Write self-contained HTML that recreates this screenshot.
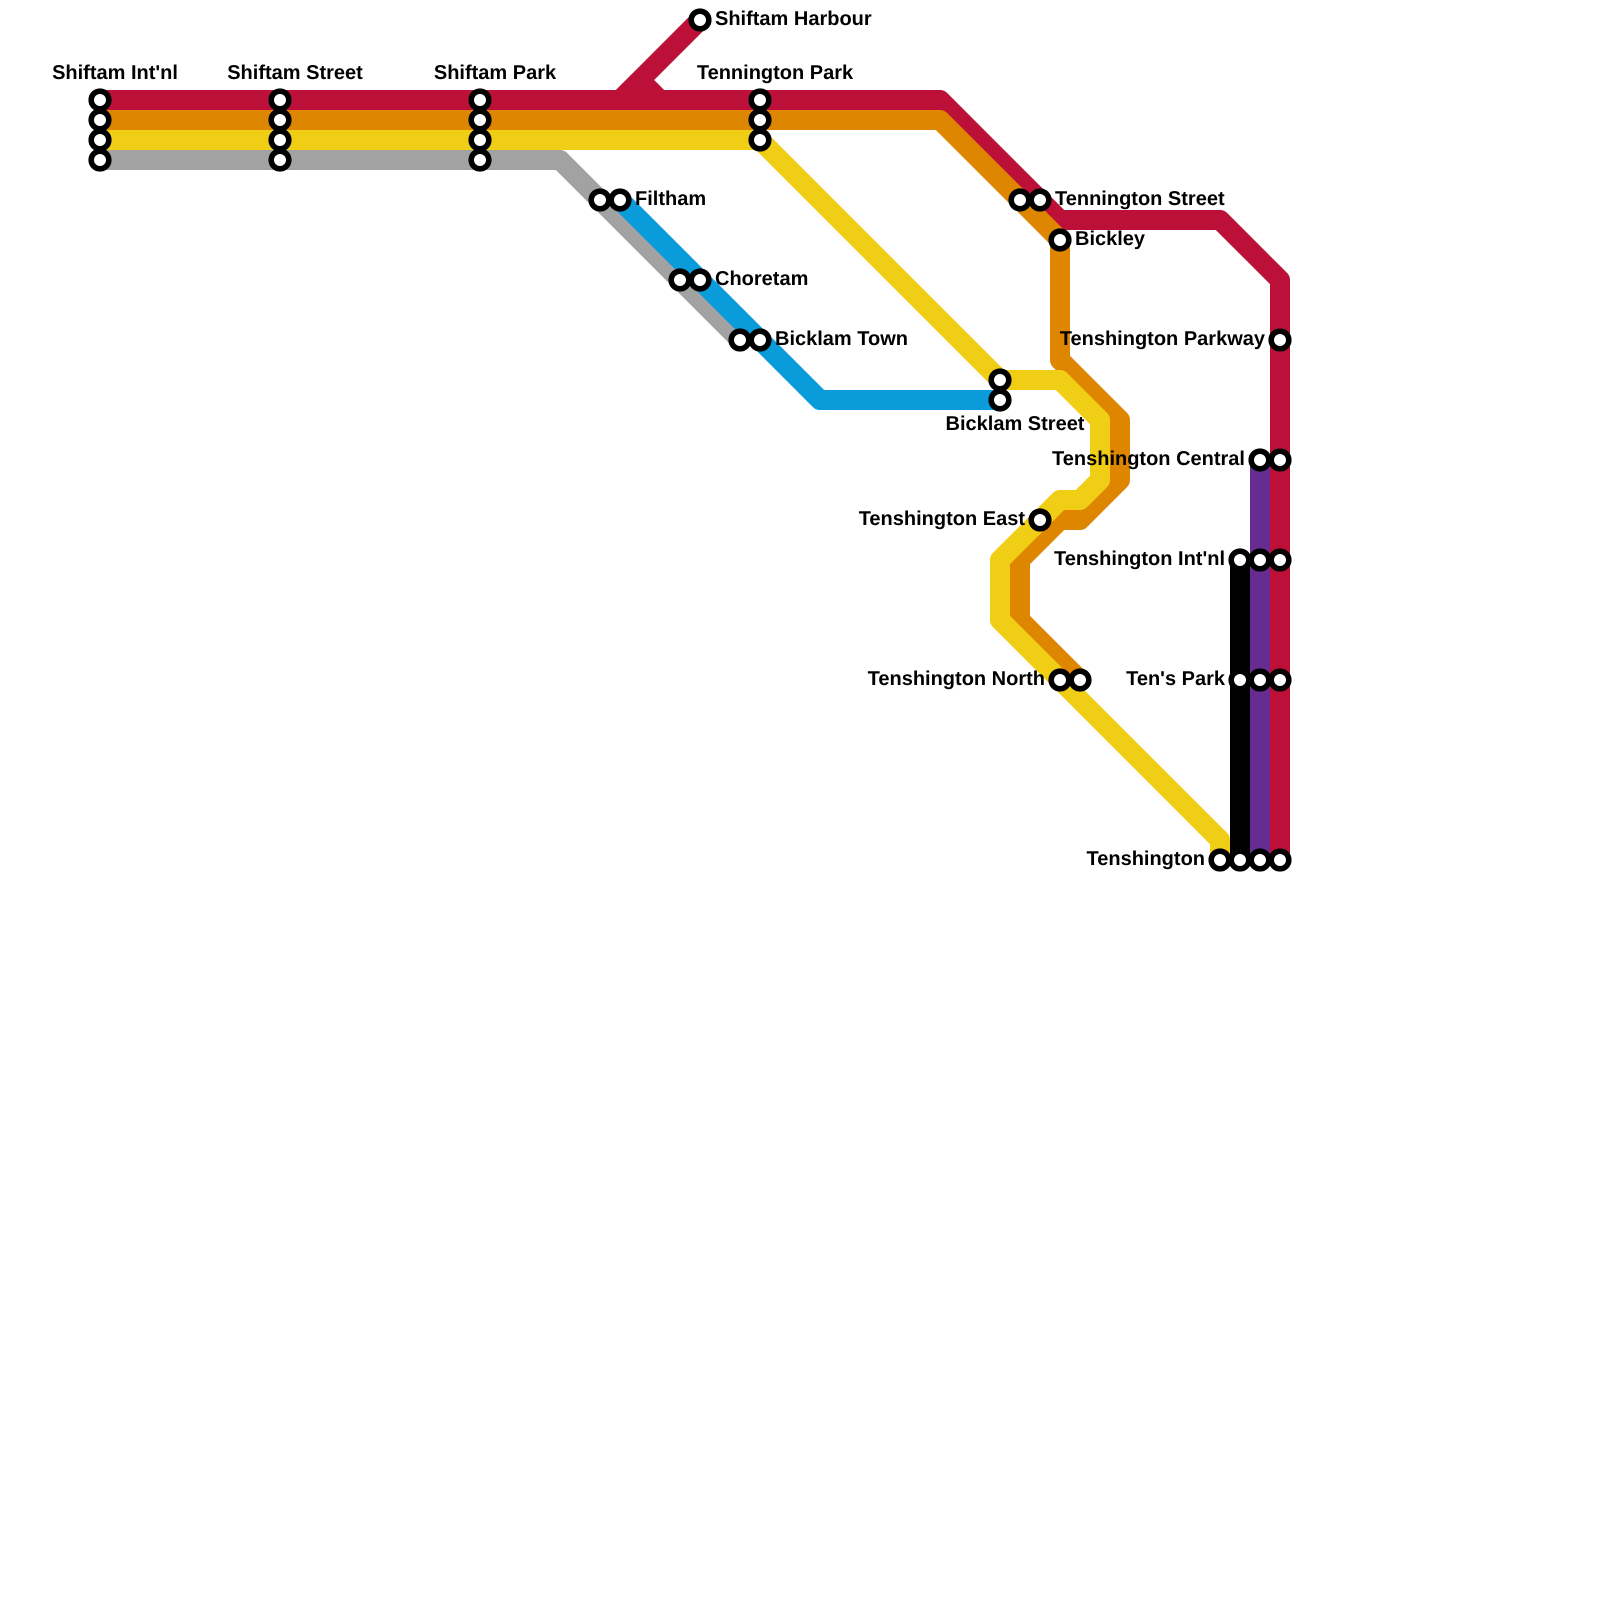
<!DOCTYPE html>
<html><head><meta charset="utf-8"><style>
html,body{margin:0;padding:0;background:#fff}
svg{display:block}
text{font-family:"Liberation Sans",sans-serif;font-weight:700;font-size:20px;fill:#000;text-rendering:geometricPrecision}
.l{fill:none;stroke-width:20;stroke-linejoin:round;stroke-linecap:butt}
.s{fill:#fff;stroke:#000;stroke-width:5.6}
.e{text-anchor:end}.m{text-anchor:middle}
</style></head><body>
<svg width="1600" height="1600" viewBox="0 0 1600 1600" xmlns="http://www.w3.org/2000/svg">
<rect width="1600" height="1600" fill="#fff"/>
<polyline class="l" stroke="#a2a2a2" points="100,160 560,160 740,340"/>
<polyline class="l" stroke="#0a9bdb" points="620,200 820,400 1000,400"/>
<polyline class="l" stroke="#bd1038" points="100,100 940,100 1060,220 1220,220 1280,280 1280,860"/>
<polyline class="l" stroke="#bd1038" points="700,20 620,100"/>
<polyline class="l" stroke="#bd1038" points="640,80 660,100"/>
<polyline class="l" stroke="#df8600" points="100,120 940,120 1060,240 1060,360 1120,420 1120,480 1080,520 1060,520 1020,560 1020,620 1080,680"/>
<polyline class="l" stroke="#f0ce15" points="100,140 760,140 1000,380 1060,380 1100,420 1100,480 1080,500 1060,500 1000,560 1000,620 1220,840 1220,860"/>
<polyline class="l" stroke="#662c90" points="1260,460 1260,860"/>
<polyline class="l" stroke="#000" points="1240,560 1240,860"/>
<g class="s">
<circle cx="100" cy="100" r="8.8"/><circle cx="100" cy="120" r="8.8"/><circle cx="100" cy="140" r="8.8"/><circle cx="100" cy="160" r="8.8"/>
<circle cx="280" cy="100" r="8.8"/><circle cx="280" cy="120" r="8.8"/><circle cx="280" cy="140" r="8.8"/><circle cx="280" cy="160" r="8.8"/>
<circle cx="480" cy="100" r="8.8"/><circle cx="480" cy="120" r="8.8"/><circle cx="480" cy="140" r="8.8"/><circle cx="480" cy="160" r="8.8"/>
<circle cx="700" cy="20" r="8.8"/>
<circle cx="760" cy="100" r="8.8"/><circle cx="760" cy="120" r="8.8"/><circle cx="760" cy="140" r="8.8"/>
<circle cx="600" cy="200" r="8.8"/><circle cx="620" cy="200" r="8.8"/>
<circle cx="680" cy="280" r="8.8"/><circle cx="700" cy="280" r="8.8"/>
<circle cx="740" cy="340" r="8.8"/><circle cx="760" cy="340" r="8.8"/>
<circle cx="1020" cy="200" r="8.8"/><circle cx="1040" cy="200" r="8.8"/>
<circle cx="1060" cy="240" r="8.8"/>
<circle cx="1000" cy="380" r="8.8"/><circle cx="1000" cy="400" r="8.8"/>
<circle cx="1040" cy="520" r="8.8"/>
<circle cx="1060" cy="680" r="8.8"/><circle cx="1080" cy="680" r="8.8"/>
<circle cx="1280" cy="340" r="8.8"/>
<circle cx="1260" cy="460" r="8.8"/><circle cx="1280" cy="460" r="8.8"/>
<circle cx="1240" cy="560" r="8.8"/><circle cx="1260" cy="560" r="8.8"/><circle cx="1280" cy="560" r="8.8"/>
<circle cx="1240" cy="680" r="8.8"/><circle cx="1260" cy="680" r="8.8"/><circle cx="1280" cy="680" r="8.8"/>
<circle cx="1220" cy="860" r="8.8"/><circle cx="1240" cy="860" r="8.8"/><circle cx="1260" cy="860" r="8.8"/><circle cx="1280" cy="860" r="8.8"/>
</g>
<text class="m" x="115" y="79">Shiftam Int'nl</text>
<text class="m" x="295" y="79">Shiftam Street</text>
<text class="m" x="495" y="79">Shiftam Park</text>
<text class="m" x="775" y="79">Tennington Park</text>
<text x="715" y="25">Shiftam Harbour</text>
<text x="635" y="205">Filtham</text>
<text x="715" y="285">Choretam</text>
<text x="775" y="345">Bicklam Town</text>
<text x="1055" y="205">Tennington Street</text>
<text x="1075" y="245">Bickley</text>
<text class="m" x="1015" y="430">Bicklam Street</text>
<text class="e" x="1265" y="345">Tenshington Parkway</text>
<text class="e" x="1245" y="465">Tenshington Central</text>
<text class="e" x="1025" y="525">Tenshington East</text>
<text class="e" x="1225" y="565">Tenshington Int'nl</text>
<text class="e" x="1045" y="685">Tenshington North</text>
<text class="e" x="1225" y="685">Ten's Park</text>
<text class="e" x="1205" y="865">Tenshington</text>
</svg>
</body></html>
